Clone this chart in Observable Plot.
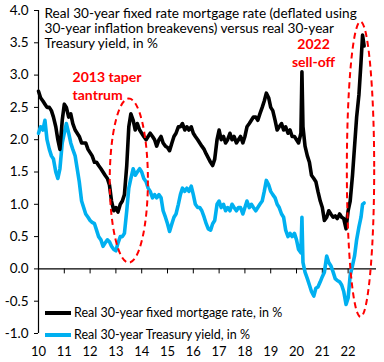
<!DOCTYPE html>
<html><head><meta charset="utf-8">
<script src="https://cdn.jsdelivr.net/npm/d3@7"></script>
<script src="https://cdn.jsdelivr.net/npm/@observablehq/plot@0.6"></script>
<style>body{margin:0;background:#fff}#chart{width:384px;height:362px}</style>
</head><body><div id="chart"></div>
<script>
const titleText = "Real 30-year fixed rate mortgage rate (deflated using\n30-year inflation breakevens) versus real 30-year\nTreasury yield, in %";
const seriesNames = ["Real 30-year fixed mortgage rate, in %", "Real 30-year Treasury yield, in %"];
const seriesColors = ["#000000", "#00b0f0"];
const xTickYears = [2010,2011,2012,2013,2014,2015,2016,2017,2018,2019,2020,2021,2022];
const yTicks = [-1,-0.5,0,0.5,1,1.5,2,2.5,3,3.5,4];

const dateYears = [
2010.00,2010.08,2010.17,2010.25,2010.33,2010.42,2010.50,2010.58,2010.67,2010.75,2010.83,2010.92,
2011.00,2011.08,2011.17,2011.25,2011.33,2011.42,2011.50,2011.58,2011.67,2011.75,2011.83,2011.92,
2012.00,2012.08,2012.17,2012.25,2012.33,2012.42,2012.50,2012.58,2012.67,2012.75,2012.83,2012.92,
2013.00,2013.08,2013.17,2013.25,2013.33,2013.42,2013.50,2013.58,2013.67,2013.75,2013.83,2013.92,
2014.00,2014.08,2014.17,2014.25,2014.33,2014.42,2014.50,2014.58,2014.67,2014.75,2014.83,2014.92,
2015.00,2015.08,2015.17,2015.25,2015.33,2015.42,2015.50,2015.58,2015.67,2015.75,2015.83,2015.92,
2016.00,2016.08,2016.17,2016.25,2016.33,2016.42,2016.50,2016.58,2016.67,2016.75,2016.83,2016.92,
2017.00,2017.08,2017.17,2017.25,2017.33,2017.42,2017.50,2017.58,2017.67,2017.75,2017.83,2017.92,
2018.00,2018.08,2018.17,2018.25,2018.33,2018.42,2018.50,2018.58,2018.67,2018.75,2018.83,2018.92,
2019.00,2019.08,2019.17,2019.25,2019.33,2019.42,2019.50,2019.58,2019.67,2019.75,2019.83,2019.92,
2020.00,2020.08,2020.17,2020.21,2020.25,2020.33,2020.42,2020.50,2020.58,2020.67,2020.75,2020.83,2020.92,
2021.00,2021.08,2021.17,2021.25,2021.33,2021.42,2021.50,2021.58,2021.67,2021.75,2021.83,2021.92,
2022.00,2022.08,2022.17,2022.25,2022.33,2022.42,2022.50,2022.56,2022.62];

const mortgageRates = [
2.75,2.65,2.60,2.55,2.50,2.50,2.45,2.35,2.20,2.00,1.85,2.30,
2.55,2.50,2.35,2.40,2.25,2.15,2.10,2.05,1.95,1.95,1.95,1.85,
1.80,1.75,1.65,1.65,1.60,1.55,1.50,1.45,1.40,1.30,1.05,0.90,
0.95,0.88,1.00,1.05,1.15,1.60,2.20,2.40,2.30,2.15,2.25,2.15,
2.10,2.05,2.00,2.05,2.10,2.05,2.00,1.90,2.00,2.05,1.95,1.90,
1.88,1.83,1.95,2.05,2.10,2.20,2.20,2.25,2.15,2.20,2.15,2.20,
2.10,2.05,2.00,1.95,1.90,1.85,1.78,1.72,1.65,1.60,1.70,2.00,
2.15,2.00,2.05,1.95,2.00,2.10,2.00,2.05,1.95,2.00,2.05,1.95,
2.05,2.20,2.25,2.30,2.35,2.35,2.30,2.40,2.50,2.60,2.72,2.65,
2.50,2.45,2.30,2.15,2.20,2.25,2.15,2.20,2.10,2.15,2.05,2.05,
2.00,1.95,2.10,3.05,2.20,1.90,1.75,1.65,1.45,1.40,1.35,1.20,1.05,
0.95,0.75,0.80,0.90,0.85,0.80,0.82,0.78,0.85,0.80,0.78,0.62,
0.90,1.05,1.45,1.90,2.35,2.70,3.20,3.62,3.45];

const treasuryYields = [
2.10,2.20,2.15,2.30,2.00,1.85,1.75,1.70,1.50,1.40,1.55,1.95,
2.10,2.25,2.10,1.95,1.85,1.75,1.55,1.35,1.05,0.95,0.85,0.80,
0.75,0.72,0.70,0.60,0.50,0.45,0.35,0.40,0.45,0.42,0.35,0.30,
0.28,0.40,0.50,0.50,0.55,0.90,1.25,1.40,1.55,1.45,1.50,1.55,
1.50,1.40,1.35,1.25,1.20,1.10,1.15,1.10,1.15,1.10,0.90,0.80,
0.70,0.58,0.70,0.80,0.85,1.00,1.15,1.25,1.20,1.25,1.20,1.28,
1.15,1.00,0.95,0.95,0.90,0.80,0.70,0.62,0.60,0.70,0.75,1.00,
1.05,0.95,1.00,0.90,0.95,0.90,1.00,0.95,0.90,0.95,0.95,0.85,
0.95,1.05,0.95,1.00,0.95,0.90,0.95,1.00,1.05,1.20,1.37,1.30,
1.20,1.15,1.10,1.00,0.95,0.85,0.80,0.60,0.50,0.55,0.50,0.55,
0.45,0.30,0.25,0.80,0.10,-0.05,-0.15,-0.25,-0.35,-0.42,-0.30,-0.28,-0.20,
-0.12,-0.05,0.20,0.10,0.05,-0.05,-0.15,-0.18,-0.20,-0.25,-0.35,-0.55,
-0.45,-0.10,0.05,0.20,0.45,0.65,0.80,1.00,1.02];

const annotationTexts = ["2013 taper\ntantrum", "2022\nsell-off"];
const annotationX = [2011.32, 2020.66];
const annotationY = [2.85, 3.35];
// ellipses: center year, horizontal radius (years), low value, high value
const ellipseCenters = [2013.52, 2022.5];
const ellipseRadii = [0.74, 0.53];
const ellipseLows = [0.09, -0.75];
const ellipseHighs = [2.63, 3.82];

const FONT = "Lato, 'Open Sans', sans-serif";
const mortgage = dateYears.map((t, i) => ({t, v: mortgageRates[i]}));
const treasury = dateYears.map((t, i) => ({t, v: treasuryYields[i]}));
const annotations = annotationTexts.map((text, i) => ({text, x: annotationX[i], y: annotationY[i]}));

function ellipsesMark(_, scales) {
  const g = d3.create("svg:g");
  ellipseCenters.forEach((c, i) => {
    const cx = scales.x(c), rx = scales.x(c + ellipseRadii[i]) - cx;
    const yTop = scales.y(ellipseHighs[i]), yBot = scales.y(ellipseLows[i]);
    g.append("ellipse").attr("cx", cx).attr("cy", (yTop + yBot) / 2)
      .attr("rx", rx).attr("ry", (yBot - yTop) / 2)
      .attr("fill", "none").attr("stroke", "#ff0000").attr("stroke-width", 2)
      .attr("stroke-dasharray", "6,4");
  });
  return g.node();
}

function legendMark(_, scales, values, dimensions) {
  const g = d3.create("svg:g").attr("font-family", FONT).attr("font-size", 12.5).attr("text-anchor", "start");
  const x0 = dimensions.marginLeft + 7;
  const rows = [313, 335];
  seriesNames.forEach((name, i) => {
    g.append("line").attr("x1", x0).attr("x2", x0 + 26).attr("y1", rows[i]).attr("y2", rows[i])
      .attr("stroke", seriesColors[i]).attr("stroke-width", 4);
    g.append("text").attr("x", x0 + 29).attr("y", rows[i]).attr("dy", "0.35em")
      .attr("text-anchor", "start").attr("fill", "#000").text(name);
  });
  return g.node();
}

const chart = Plot.plot({
  width: 384, height: 362,
  marginLeft: 38, marginRight: 8, marginTop: 10, marginBottom: 29,
  style: {fontFamily: FONT, fontSize: "13px", color: "#000", background: "#fff"},
  x: {domain: [2010, 2023.1]},
  y: {domain: [-1, 4]},
  marks: [
    Plot.ruleY([0], {stroke: "#000", strokeWidth: 1.2}),
    Plot.ruleX([2010], {stroke: "#000", strokeWidth: 1.2}),
    Plot.ruleX(xTickYears, {y1: 0, y2: 0, insetBottom: -5, stroke: "#000"}),
    Plot.axisY({ticks: yTicks, tickSize: 4, tickPadding: 6, tickFormat: d => d.toFixed(1), fontSize: 13.5, label: null, stroke: "#000"}),
    Plot.axisX({ticks: xTickYears, tickSize: 0, tickPadding: 13, tickFormat: d => String(d).slice(2), fontSize: 13, label: null}),
    Plot.line(treasury, {x: "t", y: "v", stroke: seriesColors[1], strokeWidth: 3.6, curve: "linear"}),
    Plot.line(mortgage, {x: "t", y: "v", stroke: seriesColors[0], strokeWidth: 3.6, curve: "linear"}),
    ellipsesMark,
    Plot.text(annotations.slice(0, 1), {x: "x", y: "y", text: "text", textAnchor: "start", fill: "#ff0000", fontWeight: "bold", fontSize: 14, lineHeight: 1.3}),
    Plot.text(annotations.slice(1), {x: "x", y: "y", text: "text", textAnchor: "middle", fill: "#ff0000", fontWeight: "bold", fontSize: 14, lineHeight: 1.3}),
    Plot.text([titleText], {text: d => d, frameAnchor: "top-left", dx: 6, dy: -3, textAnchor: "start", lineAnchor: "top", fontSize: 13.6, lineHeight: 1.1, fill: "#000"}),
    legendMark
  ]
});
document.getElementById("chart").append(chart);
</script>
</body></html>
